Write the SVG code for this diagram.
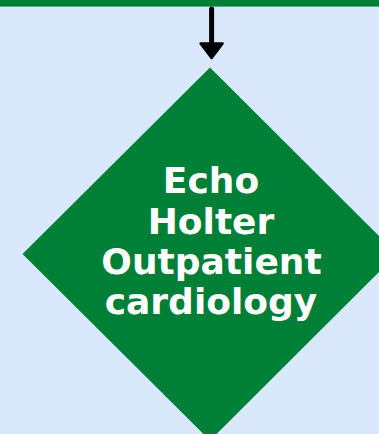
<svg xmlns="http://www.w3.org/2000/svg" width="379" height="434" viewBox="0 0 379 434">
<style>
.lbl{font-family:"DejaVu Sans",sans-serif;font-weight:bold;font-size:36px;fill:#ffffff;text-anchor:middle}
</style>
<rect x="0" y="0" width="379" height="434" fill="#dae8fc"/>
<g id="top-node"><rect x="0" y="0" width="379" height="6.6" fill="#008037"/></g>
<g id="connectors">
<line x1="211.6" y1="9" x2="211.6" y2="46" stroke="#000" stroke-width="5" stroke-linecap="round"/>
<polygon points="200.6,43.5 222.6,43.5 211.6,58" fill="#000" stroke="#000" stroke-width="2.5" stroke-linejoin="round"/>
</g>
<g id="decision">
<polygon points="210,67.5 397,254 210,440.5 22.5,254" fill="#008037"/>
<text class="lbl" x="211" y="193">Echo</text>
<text class="lbl" x="211" y="234">Holter</text>
<text class="lbl" x="211.5" y="273.5">Outpatient</text>
<text class="lbl" x="211" y="313.5">cardiology</text>
</g>
</svg>
